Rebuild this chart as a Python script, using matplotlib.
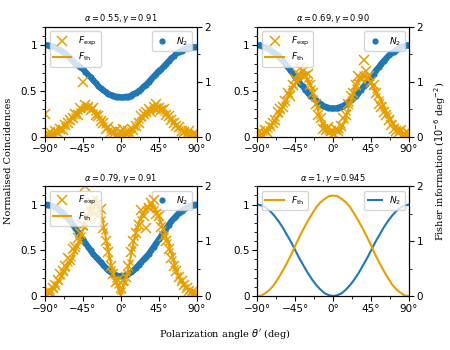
import numpy as np
import matplotlib
matplotlib.use("Agg")
import matplotlib.pyplot as plt
from matplotlib.ticker import AutoMinorLocator

# ---- data ----
titles = [r"$\alpha = 0.55, \gamma = 0.91$", r"$\alpha = 0.69, \gamma = 0.90$",
          r"$\alpha = 0.79, \gamma = 0.91$", r"$\alpha = 1, \gamma = 0.945$"]

theta_pts = np.arange(-90, 91, 3)        # measured angles (deg)
theta_pts2 = np.arange(-88.5, 89, 3)     # second measurement run (deg)
theta_th = np.arange(-90, 91, 5)         # theory curve angles (deg)

xtick_pos = [-90, -45, 0, 45, 90]
xtick_labels = ["\u221290\u00b0", "\u221245\u00b0", "0\u00b0", "45\u00b0", "90\u00b0"]

# normalised coincidences N2 (left axis)
n2_a = [1.00, 1.00, 0.99, 0.99, 0.98, 0.96, 0.95, 0.93, 0.91, 0.88, 0.86, 0.83, 0.80, 0.78,
        0.76, 0.74, 0.71, 0.68, 0.65, 0.62, 0.59, 0.56, 0.53, 0.51, 0.49, 0.47, 0.46, 0.45,
        0.44, 0.44, 0.43, 0.43, 0.44, 0.44, 0.45, 0.47, 0.48, 0.50, 0.52, 0.55, 0.57, 0.60,
        0.63, 0.66, 0.69, 0.72, 0.74, 0.77, 0.80, 0.83, 0.86, 0.88, 0.91, 0.93, 0.94, 0.96,
        0.97, 0.98, 0.98, 0.98, 0.98]
n2_b = [1.00, 1.00, 0.99, 0.98, 0.97, 0.95, 0.93, 0.91, 0.89, 0.86, 0.83, 0.80, 0.76, 0.73,
        0.69, 0.65, 0.62, 0.58, 0.55, 0.51, 0.48, 0.45, 0.42, 0.40, 0.38, 0.36, 0.34, 0.33,
        0.32, 0.31, 0.31, 0.31, 0.32, 0.33, 0.34, 0.36, 0.38, 0.40, 0.42, 0.45, 0.48, 0.51,
        0.55, 0.58, 0.62, 0.65, 0.69, 0.73, 0.76, 0.80, 0.83, 0.86, 0.89, 0.91, 0.93, 0.95,
        0.97, 0.98, 0.99, 1.00, 1.00]
n2_c = [1.00, 1.00, 0.99, 0.98, 0.97, 0.95, 0.93, 0.91, 0.88, 0.85, 0.82, 0.78, 0.74, 0.70,
        0.66, 0.62, 0.58, 0.54, 0.50, 0.46, 0.43, 0.40, 0.37, 0.34, 0.31, 0.28, 0.26, 0.24,
        0.23, 0.22, 0.22, 0.22, 0.23, 0.24, 0.26, 0.28, 0.31, 0.34, 0.37, 0.40, 0.43, 0.46,
        0.50, 0.54, 0.58, 0.62, 0.66, 0.70, 0.74, 0.78, 0.82, 0.85, 0.88, 0.91, 0.93, 0.95,
        0.97, 0.98, 0.99, 1.00, 1.00]
n2_d = [1.00, 0.99, 0.97, 0.93, 0.88, 0.82, 0.75, 0.67, 0.59, 0.50, 0.41, 0.33, 0.25, 0.18,
        0.12, 0.07, 0.03, 0.01, 0.00, 0.01, 0.03, 0.07, 0.12, 0.18, 0.25, 0.33, 0.41, 0.50,
        0.59, 0.67, 0.75, 0.82, 0.88, 0.93, 0.97, 0.99, 1.00]

# experimental Fisher information (right axis, 1e-6 deg^-2)
fexp_a = [0.42, 0.05, 0.08, 0.03, 0.10, 0.07, 0.15, 0.12, 0.22, 0.25, 0.30, 0.35, 0.42, 0.40,
          0.52, 1.00, 0.58, 0.55, 0.48, 0.52, 0.40, 0.38, 0.28, 0.25, 0.15, 0.18, 0.08, 0.05,
          0.12, 0.02, 0.08, 0.15, 0.05, 0.10, 0.03, 0.12, 0.20, 0.25, 0.38, 0.42, 0.45, 0.50,
          0.46, 0.55, 0.60, 0.52, 0.48, 0.50, 0.40, 0.38, 0.30, 0.25, 0.20, 0.18, 0.10, 0.08,
          0.05, 0.10, 0.03, 0.06, 0.04]
fexp2_a = [0.04, 0.06, 0.02, 0.07, 0.10, 0.12, 0.16, 0.20, 0.24, 0.28, 0.35, 0.38, 0.44, 0.47,
           0.50, 0.55, 0.52, 0.56, 0.50, 0.46, 0.42, 0.35, 0.30, 0.22, 0.18, 0.12, 0.10, 0.04,
           0.06, 0.10, 0.05, 0.08, 0.06, 0.12, 0.14, 0.18, 0.24, 0.30, 0.34, 0.40, 0.46, 0.48,
           0.52, 0.50, 0.56, 0.50, 0.45, 0.44, 0.38, 0.34, 0.28, 0.22, 0.16, 0.14, 0.08, 0.10,
           0.04, 0.06, 0.02, 0.05]
fexp_b = [0.05, 0.10, 0.04, 0.12, 0.08, 0.20, 0.25, 0.30, 0.45, 0.50, 0.55, 0.65, 0.80, 0.75,
          0.95, 1.05, 1.15, 1.25, 1.20, 1.10, 1.15, 0.95, 0.80, 0.60, 0.40, 0.35, 0.15, 0.12,
          0.18, 0.10, 0.05, 0.15, 0.10, 0.20, 0.35, 0.40, 0.60, 0.75, 0.80, 0.95, 1.10, 1.05,
          1.40, 1.20, 1.10, 1.00, 0.95, 0.80, 0.60, 0.55, 0.45, 0.40, 0.30, 0.22, 0.15, 0.10,
          0.08, 0.12, 0.05, 0.08, 0.06]
fexp2_b = [0.03, 0.06, 0.08, 0.10, 0.15, 0.22, 0.28, 0.35, 0.42, 0.50, 0.60, 0.68, 0.78, 0.88,
           0.95, 1.02, 1.10, 1.12, 1.15, 1.05, 1.00, 0.88, 0.70, 0.55, 0.38, 0.25, 0.18, 0.10,
           0.08, 0.12, 0.06, 0.10, 0.12, 0.22, 0.30, 0.45, 0.62, 0.75, 0.90, 1.00, 1.08, 1.15,
           1.10, 1.05, 1.00, 0.92, 0.85, 0.75, 0.68, 0.58, 0.48, 0.40, 0.32, 0.25, 0.18, 0.12,
           0.10, 0.06, 0.04, 0.02]
fexp_c = [0.05, 0.10, 0.08, 0.15, 0.20, 0.30, 0.40, 0.45, 0.55, 0.70, 0.65, 0.85, 0.90, 1.05,
          1.15, 1.30, 2.00, 1.40, 1.55, 1.70, 1.65, 1.45, 1.58, 1.24, 1.00, 0.80, 0.55, 0.40,
          0.25, 0.30, 0.15, 0.28, 0.35, 0.55, 0.80, 1.00, 1.15, 1.30, 1.57, 1.45, 1.24, 1.60,
          1.70, 1.75, 1.50, 1.45, 1.25, 1.10, 1.00, 0.85, 0.70, 0.55, 0.45, 0.35, 0.28, 0.20,
          0.15, 0.10, 0.08, 0.05, 0.04]
fexp2_c = [0.02, 0.06, 0.10, 0.14, 0.22, 0.28, 0.36, 0.46, 0.52, 0.60, 0.70, 0.82, 0.92, 1.00,
           1.12, 1.25, 1.45, 1.55, 1.62, 1.78, 1.72, 1.55, 1.40, 1.18, 0.92, 0.70, 0.50, 0.32,
           0.20, 0.10, 0.12, 0.25, 0.42, 0.62, 0.88, 1.08, 1.25, 1.40, 1.50, 1.58, 1.62, 1.68,
           1.62, 1.58, 1.48, 1.35, 1.22, 1.10, 0.98, 0.82, 0.68, 0.52, 0.38, 0.30, 0.22, 0.16,
           0.12, 0.08, 0.05, 0.02]

# theoretical Fisher information (right axis)
fth_a = [0.00, 0.02, 0.05, 0.10, 0.16, 0.23, 0.31, 0.39, 0.46, 0.51, 0.53, 0.51, 0.45, 0.36,
         0.26, 0.16, 0.08, 0.03, 0.01, 0.03, 0.08, 0.15, 0.25, 0.35, 0.43, 0.49, 0.52, 0.52,
         0.47, 0.40, 0.32, 0.24, 0.16, 0.10, 0.05, 0.02, 0.00]
fth_b = [0.00, 0.03, 0.08, 0.16, 0.27, 0.40, 0.55, 0.70, 0.85, 0.98, 1.08, 1.12, 1.05, 0.85,
         0.58, 0.32, 0.14, 0.06, 0.05, 0.07, 0.16, 0.35, 0.62, 0.88, 1.06, 1.12, 1.08, 0.98,
         0.85, 0.70, 0.55, 0.40, 0.27, 0.16, 0.08, 0.03, 0.00]
fth_c = [0.00, 0.05, 0.13, 0.25, 0.38, 0.50, 0.62, 0.80, 1.00, 1.20, 1.45, 1.68, 1.80, 1.62,
         1.25, 0.82, 0.48, 0.22, 0.00, 0.28, 0.58, 0.98, 1.28, 1.48, 1.60, 1.66, 1.60, 1.45,
         1.24, 1.02, 0.78, 0.50, 0.32, 0.20, 0.12, 0.05, 0.00]
fth_d = [0.00, 0.01, 0.06, 0.12, 0.21, 0.33, 0.46, 0.60, 0.75, 0.92, 1.08, 1.23, 1.37, 1.50,
         1.62, 1.71, 1.77, 1.82, 1.83, 1.82, 1.77, 1.71, 1.62, 1.50, 1.37, 1.23, 1.08, 0.92,
         0.75, 0.60, 0.46, 0.33, 0.21, 0.12, 0.06, 0.01, 0.00]

n2_list = [n2_a, n2_b, n2_c, n2_d]
fexp_list = [fexp_a, fexp_b, fexp_c, None]
fexp2_list = [fexp2_a, fexp2_b, fexp2_c, None]
fth_list = [fth_a, fth_b, fth_c, fth_d]

blue = "#1f77b4"
orange = "#e69f00"

plt.rcParams["font.size"] = 7.5
fig, axes = plt.subplots(2, 2, figsize=(4.5, 3.5), dpi=100)
fig.subplots_adjust(left=0.1, right=0.909, top=0.923, bottom=0.154, wspace=0.4, hspace=0.45)

for i, ax in enumerate(axes.flat):
    ax2 = ax.twinx()
    if i < 3:
        # dense measured points drawn as a band
        ax.plot(theta_pts, n2_list[i], "-", color=blue, lw=4.2, solid_capstyle="round")
        ax.plot(theta_pts, n2_list[i], "o", color=blue, ms=4.5, mew=0, label="$N_2$")
        ax2.plot(theta_pts, fexp_list[i], "x", color=orange, ms=7, mew=1.1,
                 label=r"$F_{\rm exp}$")
        ax2.plot(theta_pts2, fexp2_list[i], "x", color=orange, ms=5, mew=1.0)
    else:
        ax.plot(theta_th, n2_list[i], "-", color=blue, lw=1.5, label="$N_2$")
    ax2.plot(theta_th, fth_list[i], "-", color=orange, lw=1.5, label=r"$F_{\rm th}$")

    ax.set_xlim(-90, 90)
    ax.set_ylim(0, 1.2)
    ax2.set_ylim(0, 2)
    ax.set_xticks(xtick_pos)
    ax.set_xticklabels(xtick_labels)
    ax.set_yticks([0, 0.5, 1])
    ax.set_yticklabels(["0", "0.5", "1"])
    ax2.set_yticks([0, 1, 2])
    ax.xaxis.set_minor_locator(AutoMinorLocator(2))
    ax.yaxis.set_minor_locator(AutoMinorLocator(5))
    ax2.yaxis.set_minor_locator(AutoMinorLocator(2))
    ax.tick_params(which="major", length=3.5, width=0.8, pad=2)
    ax.tick_params(which="minor", length=2, width=0.6)
    ax2.tick_params(which="major", length=3.5, width=0.8, pad=2)
    ax2.tick_params(which="minor", length=2, width=0.6)
    ax.set_title(titles[i], fontsize=6, pad=4)

    ax.legend(loc="upper right", fontsize=6.5, handlelength=1.5, borderpad=0.4,
              handletextpad=0.8)
    ax2.legend(loc="upper left", fontsize=6.5, handlelength=2.0, borderpad=0.4,
               handletextpad=0.8, labelspacing=0.3)

fig.text(0.018, 0.54, "Normalised Coincidences", rotation=90, va="center", ha="center",
         family="DejaVu Serif", fontsize=7)
fig.text(0.978, 0.54, "Fisher information ($10^{-6}$ deg$^{-2}$)", rotation=90,
         va="center", ha="center", family="DejaVu Serif", fontsize=7)
fig.text(0.5, 0.045, "Polarization angle $\\theta'$ (deg)", ha="center", va="center",
         family="DejaVu Serif", fontsize=7)

fig.savefig("out.png", dpi=100)
